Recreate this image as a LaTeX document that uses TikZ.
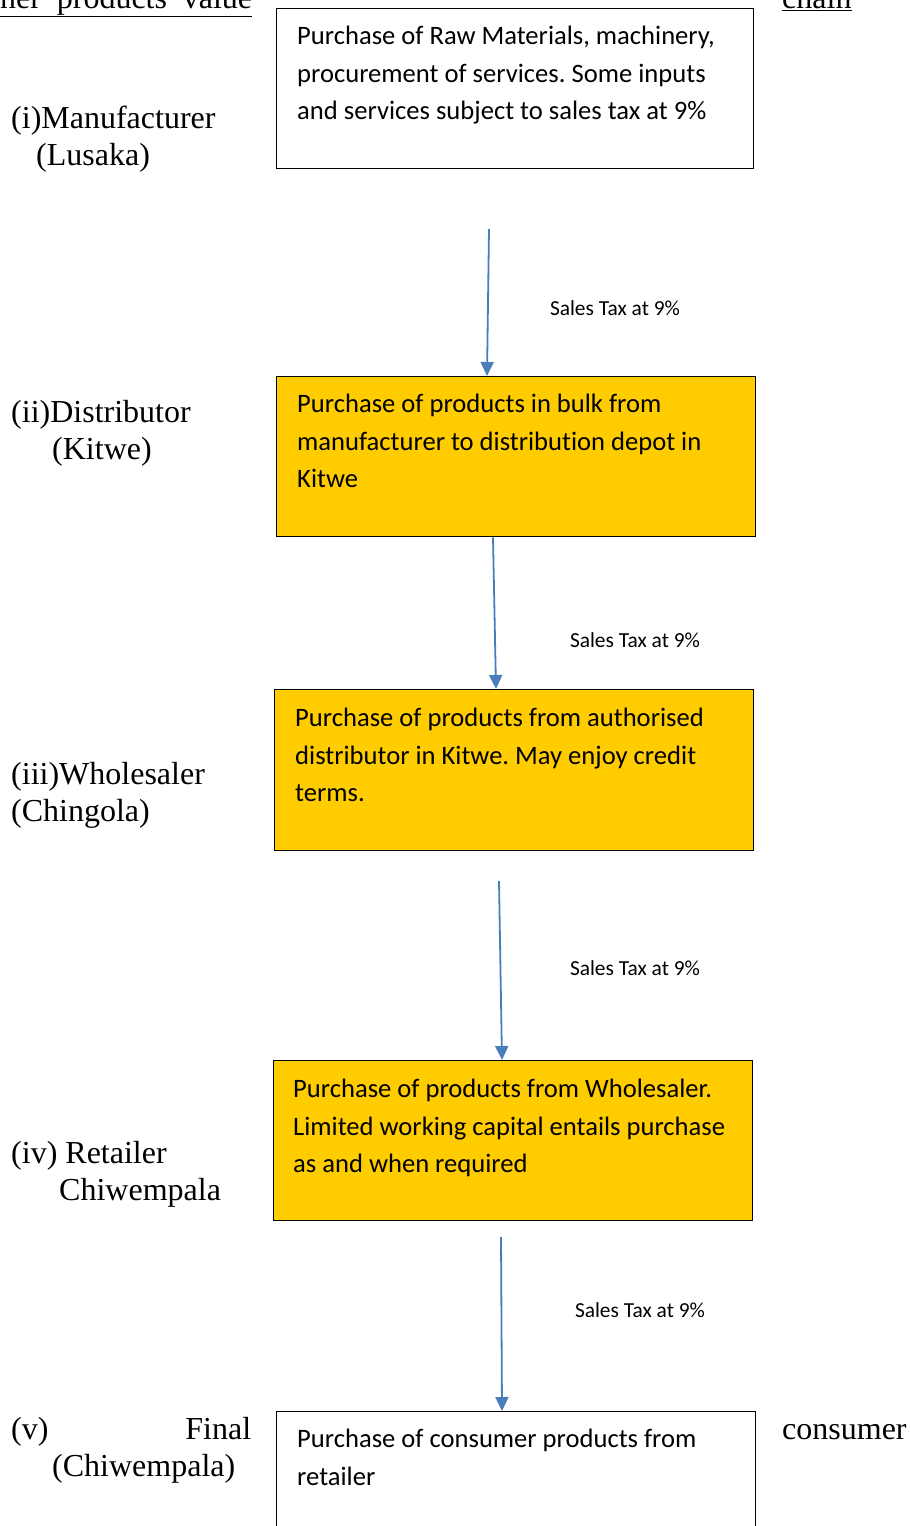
\documentclass[tikz,border=0pt]{standalone}
\usepackage{fontspec}
\setmainfont{Liberation Serif}
\newfontfamily\boxfont[Ligatures={NoCommon}]{Carlito}
\usetikzlibrary{arrows.meta}
\definecolor{arrowblue}{HTML}{4A7EBB}
\definecolor{gold}{HTML}{FFCC00}
\tikzset{
  whitebox/.style={draw=black, line width=1.4pt, fill=white, rectangle, inner sep=0pt},
  goldbox/.style={draw=black, line width=1.4pt, fill=gold, rectangle, inner sep=0pt},
  btext/.style={anchor=base west, inner sep=0pt, font=\boxfont\frenchspacing\fontsize{26.6}{37.5}\selectfont},
  taxlabel/.style={inner sep=0pt, font=\boxfont\fontsize{21.4}{25}\selectfont},
  stage/.style={anchor=base west, inner sep=0pt, font=\fontsize{32}{37}\selectfont},
  arr/.style={draw=arrowblue, line width=1.8pt, -{Triangle[length=14pt,width=13pt]}}
}
\begin{document}
\begin{tikzpicture}[x=1pt,y=-1pt]
\useasboundingbox (0,0) rectangle (910,1526);
% header (cut off at top edge, as in the reference)
\node[stage] (h1) at (0,8) {\underline{\makebox[252pt][s]{ner products value}}};
\node[stage] (h2) at (782,8) {\underline{chain}};
% boxes
\node[whitebox, minimum width=477pt, minimum height=160pt, anchor=north west] (b1) at (276,8) {};
\node[goldbox, minimum width=479pt, minimum height=160pt, anchor=north west] (b2) at (276,376) {};
\node[goldbox, minimum width=479pt, minimum height=161pt, anchor=north west] (b3) at (274,689) {};
\node[goldbox, minimum width=479pt, minimum height=160pt, anchor=north west] (b4) at (273,1060) {};
\node[whitebox, minimum width=479pt, minimum height=160pt, anchor=north west] (b5) at (276,1411) {};
% box texts
\node[btext] (t1) at (297,44.5) {\parbox[t]{450pt}{\raggedright\frenchspacing Purchase of Raw Materials, machinery,\\ procurement of services. Some inputs\\ and services subject to sales tax at 9\%}};
\node[btext] (t2) at (297,412.5) {\parbox[t]{450pt}{\raggedright\frenchspacing Purchase of products in bulk from\\ manufacturer to distribution depot in\\ Kitwe}};
\node[btext] (t3) at (295,726.5) {\parbox[t]{450pt}{\raggedright\frenchspacing Purchase of products from authorised\\ distributor in Kitwe. May enjoy credit\\ terms.}};
\node[btext] (t4) at (293,1097.5) {\parbox[t]{450pt}{\raggedright\frenchspacing Purchase of products from Wholesaler.\\ Limited working capital entails purchase\\ as and when required}};
\node[btext] (t5) at (297,1447.5) {\parbox[t]{450pt}{\raggedright\frenchspacing Purchase of consumer products from\\ retailer}};
% stage labels
\node[stage] (l1a) at (11,128) {(i)Manufacturer};
\node[stage] (l1b) at (36,165) {(Lusaka)};
\node[stage] (l2a) at (11,422) {(ii)Distributor};
\node[stage] (l2b) at (52,459) {(Kitwe)};
\node[stage] (l3a) at (11,784) {(iii)Wholesaler};
\node[stage] (l3b) at (11,821) {(Chingola)};
\node[stage] (l4a) at (11,1163) {(iv) Retailer};
\node[stage] (l4b) at (59,1200) {Chiwempala};
\node[stage] (l5a) at (11,1439) {\makebox[240pt][s]{(v) Final}};
\node[stage] (l5b) at (52,1476) {(Chiwempala)};
\node[stage] (l5c) at (782,1439) {consumer};
% tax labels
\node[taxlabel] (x1) at (615,308) {Sales Tax at 9\%};
\node[taxlabel] (x2) at (635,640) {Sales Tax at 9\%};
\node[taxlabel] (x3) at (635,968) {Sales Tax at 9\%};
\node[taxlabel] (x4) at (640,1310) {Sales Tax at 9\%};
% arrows
\coordinate (s1) at (489,229);
\coordinate (s3) at (499,881);
\coordinate (s4) at (501,1237);
\draw[arr] (s1) -- ([xshift=211pt]b2.north west);
\draw[arr] ([xshift=217pt]b2.south west) -- ([xshift=222pt]b3.north west);
\draw[arr] (s3) -- ([xshift=229pt]b4.north west);
\draw[arr] (s4) -- ([xshift=226pt]b5.north west);
\end{tikzpicture}
\end{document}
